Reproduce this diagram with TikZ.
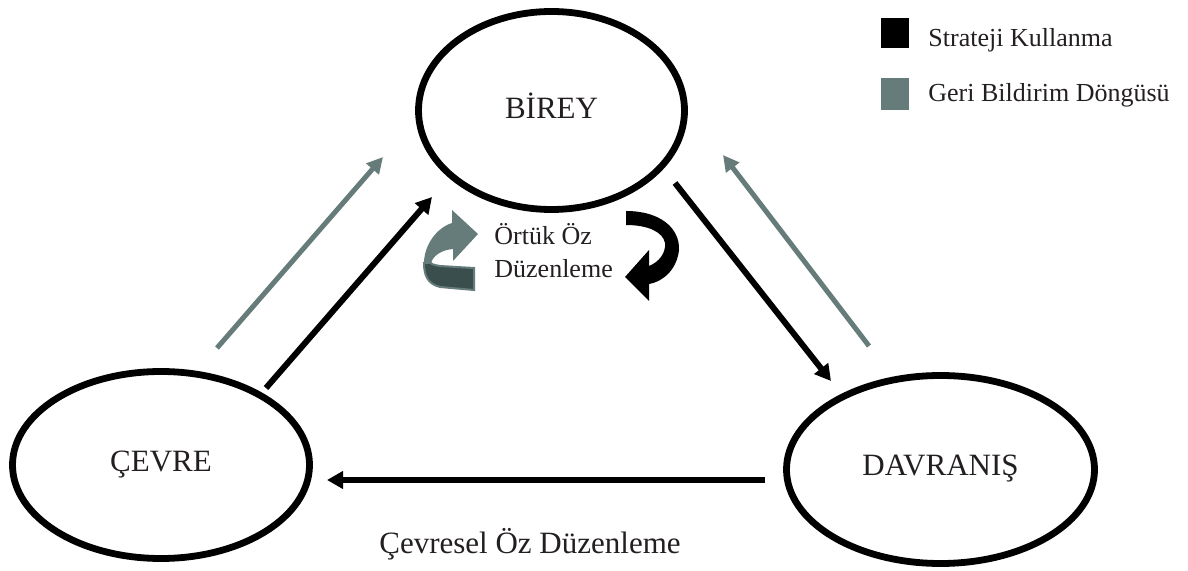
\documentclass[tikz,border=0pt]{standalone}
\usepackage{fontspec}
\setmainfont{Liberation Serif}
\usetikzlibrary{arrows.meta,shapes.geometric}
\definecolor{fbgray}{RGB}{102,124,123}
\definecolor{fbdark}{RGB}{58,78,78}
\definecolor{txt}{RGB}{35,31,32}
\begin{document}
\begin{tikzpicture}[x=0.5pt,y=-0.5pt,
  oval/.style={ellipse, draw=black, line width=3.4pt, inner sep=0pt, text=txt,
    font=\rmfamily\fontsize{15.5}{18}\selectfont},
  strat/.style={draw=black, line width=3pt, -{Triangle[length=8pt,width=8.5pt]}},
  feed/.style={draw=fbgray, line width=2.5pt, -{Triangle[length=8pt,width=8pt]}},
  lbl/.style={text=txt, inner sep=0pt},
  bigtxt/.style={font=\rmfamily\fontsize{15.5}{18}\selectfont},
  smalltxt/.style={font=\rmfamily\fontsize{13}{16}\selectfont},
  legendbox/.style={inner sep=0pt, minimum width=14pt, minimum height=15pt},
]
\useasboundingbox (0,0) rectangle (1188,571);

% main ellipses
\node[oval, minimum width=133pt, minimum height=99pt] (birey) at (551.5,110.5) {\raisebox{5pt}{BİREY}};
\node[oval, minimum width=148.5pt, minimum height=93.5pt] (cevre) at (161,465) {\raisebox{4pt}{ÇEVRE}};
\node[oval, minimum width=154pt, minimum height=94pt] (davranis) at (940.5,469.5) {\raisebox{4.5pt}{DAVRANIŞ}};

% connector end points
\coordinate (g1s) at (217,348);  \coordinate (g1e) at (383,157);
\coordinate (b1s) at (266,388);  \coordinate (b1e) at (432,197);
\coordinate (b2s) at (675,183);  \coordinate (b2e) at (831,381);
\coordinate (g2s) at (869,346);  \coordinate (g2e) at (723,155);
\coordinate (b3s) at (765,480);  \coordinate (b3e) at (327,480);

\draw[feed] (g1s) -- (g1e);
\draw[strat] (b1s) -- (b1e);
\draw[strat] (b2s) -- (b2e);
\draw[feed] (g2s) -- (g2e);
\draw[strat] (b3s) -- (b3e);

% bottom label
\node[lbl, bigtxt, anchor=base] (cevresel) at (530,553) {Çevresel Öz Düzenleme};

% implicit self-regulation label
\node[lbl, smalltxt, anchor=base west] (ortuk1) at (494,245) {Örtük Öz};
\node[lbl, smalltxt, anchor=base west] (ortuk2) at (494,278) {Düzenleme};

% gray curved arrow (left)
\fill[fbgray] (452,210) -- (478,234) -- (453,261) -- (453,249)
  .. controls (441,250) and (433,256) .. (431,263) -- (424,263)
  .. controls (424,246) and (436,228) .. (452,223) -- cycle;
\filldraw[fill=fbdark, draw=fbgray, line width=1pt] (424,263)
  .. controls (424,276) and (428,284) .. (440,287) -- (474,290) -- (474,268)
  -- (440,266) .. controls (434,265) and (431,264) .. (431,263) -- cycle;

% black curved arrow (right)
\fill[black] (626,211) .. controls (660,211) and (680,228) .. (679,250)
  .. controls (677,268) and (665,281) .. (649,284) -- (649,301) -- (625,277)
  -- (649,250) -- (649,266) .. controls (659,262) and (666,253) .. (665,243)
  .. controls (663,232) and (648,225) .. (626,225) -- cycle;

% legend
\node[legendbox, fill=black, anchor=north west] (legblack) at (881,18) {};
\node[legendbox, fill=fbgray, anchor=north west, minimum height=16pt] (leggray) at (881,78) {};
\node[lbl, smalltxt, anchor=base west] (legtxt1) at (928,47) {Strateji Kullanma};
\node[lbl, smalltxt, anchor=base west] (legtxt2) at (928,102) {Geri Bildirim Döngüsü};
\end{tikzpicture}
\end{document}
